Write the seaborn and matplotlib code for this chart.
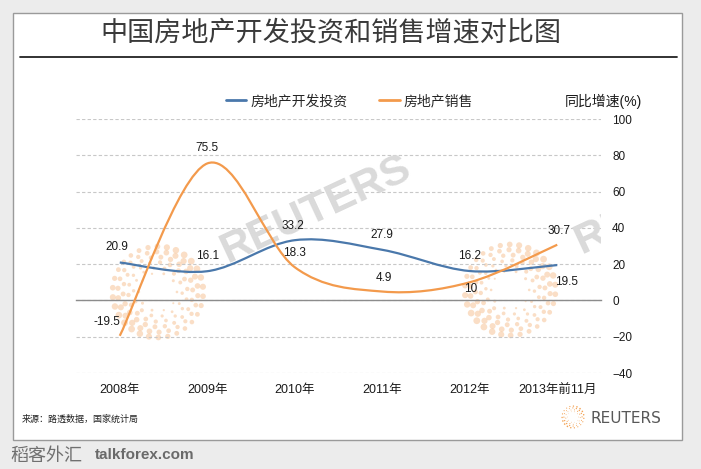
import numpy as np
import matplotlib
matplotlib.use("Agg")
import matplotlib.pyplot as plt
import seaborn as sns
from matplotlib.path import Path
from matplotlib.patches import PathPatch, Rectangle
from matplotlib.lines import Line2D

# data
years = ["2008年", "2009年", "2010年", "2011年", "2012年", "2013年前11月"]
invest = [20.9, 16.1, 33.2, 27.9, 16.2, 19.5]
sales = [-19.5, 75.5, 18.3, 4.9, 10, 30.7]
series_names = ["房地产开发投资", "房地产销售"]
title = "中国房地产开发投资和销售增速对比图"
source = "来源：路透数据，国家统计局"

# label offsets in points (layout only)
invest_off = [(-2, 11), (0, 11), (-1, 10), (0, 11), (0, 11), (7, -12)]
sales_off = [(-9, 10), (0, 11), (0, 10), (1, 10), (1, -5), (1, 10)]

BLUE = "#4a78ab"
ORANGE = "#f39a4c"

sns.set_style("white")
plt.rcParams['font.family'] = ['Liberation Sans', 'Noto Sans CJK SC', 'DejaVu Sans']

W, H = 701, 469
fig = plt.figure(figsize=(W / 100, H / 100), dpi=100, facecolor="#ececec")


def fx(px):
    return px / W


def fy(py):
    return 1 - py / H


def smooth_path(xs, ys):
    """Excel-like smoothed line: Catmull-Rom as cubic bezier segments"""
    pts = np.column_stack([xs, ys]).astype(float)
    n = len(pts)
    verts = [pts[0]]
    codes = [Path.MOVETO]
    for i in range(n - 1):
        p0 = pts[max(i - 1, 0)]
        p1 = pts[i]
        p2 = pts[i + 1]
        p3 = pts[min(i + 2, n - 1)]
        verts += [p1 + (p2 - p0) / 6, p2 - (p3 - p1) / 6, p2]
        codes += [Path.CURVE4] * 3
    return Path(verts, codes)


def draw_sphere(iax, color, smax, alpha, rings=6, r0=0.42, dn=4):
    iax.set_xlim(-1.1, 1.1)
    iax.set_ylim(-1.1, 1.1)
    iax.axis('off')
    for k in range(rings):
        r = r0 + (1.0 - r0) * k / (rings - 1)
        n = 10 + dn * k
        th = np.linspace(0, 2 * np.pi, n, endpoint=False) + k * 0.4
        size = smax * (0.2 + 0.8 * k / (rings - 1)) * (0.45 + 0.55 * np.cos(th - 3.9) ** 2)
        iax.scatter(r * np.cos(th), r * np.sin(th), s=size, color=color,
                    alpha=alpha, linewidths=0)


# white panel + title rule
fig.add_artist(Rectangle((fx(13), fy(440)), fx(682) - fx(13), fy(13) - fy(440),
                         transform=fig.transFigure, facecolor="white",
                         edgecolor="#9a9a9a", lw=1, zorder=-2))
fig.add_artist(Line2D([fx(20), fx(677)], [fy(57), fy(57)], transform=fig.transFigure,
                      color="#222222", lw=1.3))
fig.text(fx(331), fy(33), title, ha='center', va='center', fontsize=19.5,
         color="#3a3a3a", fontweight='light', family=['Noto Sans CJK SC'])

ax = fig.add_axes([fx(76), fy(373), fx(601) - fx(76), fy(119) - fy(373)])
ax.set_facecolor('none')
pos = np.arange(len(years))
ax.set_xlim(-0.5, len(years) - 0.5)
ax.set_ylim(-40, 100)

# background watermarks
for b in ([0.156 - 0.095, 0.319 - 0.197, 0.19, 0.394],
          [0.827 - 0.095, 0.327 - 0.197, 0.19, 0.394]):
    iax = ax.inset_axes(b)
    iax.set_zorder(0.3)
    draw_sphere(iax, "#f7c9a0", 24, 0.6)
for (x, y) in [(0.457, 0.642), (1.131, 0.677)]:
    ax.text(x, y, "REUTERS", transform=ax.transAxes, rotation=25, fontsize=31,
            fontweight='bold', color="#dadada", ha='center', va='center',
            rotation_mode='anchor', clip_on=True, zorder=1)

# lines
for vals, col in [(invest, BLUE), (sales, ORANGE)]:
    ax.add_patch(PathPatch(smooth_path(pos, vals), facecolor='none', edgecolor=col,
                           lw=1.6, zorder=3, capstyle='butt'))

# data labels
for vals, offs in [(invest, invest_off), (sales, sales_off)]:
    for x, v, o in zip(pos, vals, offs):
        ax.annotate(f"{v:g}", (x, v), xytext=o, textcoords='offset points',
                    ha='center', va='center', fontsize=8.5, color="#1a1a1a", zorder=4)

# axes styling
ax.yaxis.tick_right()
ax.set_yticks(range(-40, 101, 20))
ax.tick_params(axis='y', length=0, pad=8, labelsize=8.5, labelcolor="#1a1a1a")
ax.yaxis.grid(True, linestyle=(0, (3, 2)), color="#c8c8c8", lw=0.8)
ax.xaxis.grid(False)
ax.set_xticks(np.arange(-0.5, len(years), 1))
ax.set_xticklabels([])
ax.tick_params(axis='x', direction='in', length=4, color="#8c8c8c", width=1)
sns.despine(ax=ax, left=True, right=True, top=True)
ax.spines['bottom'].set_position(('data', 0))
ax.spines['bottom'].set_color("#8c8c8c")
ax.spines['bottom'].set_linewidth(1)

sec = ax.secondary_xaxis(0)
sec.set_xticks(pos, labels=years)
sec.tick_params(length=0, pad=8, labelsize=9, labelcolor="#1a1a1a")
sec.spines['bottom'].set_visible(False)

# legend + unit label
handles = [Line2D([], [], color=BLUE, lw=2), Line2D([], [], color=ORANGE, lw=2)]
fig.legend(handles, series_names, loc='center left', bbox_to_anchor=(fx(226), fy(101)),
           ncol=2, frameon=False, fontsize=10, handlelength=1.45, handletextpad=0.3,
           columnspacing=2.3, borderpad=0, borderaxespad=0)
fig.text(fx(565), fy(101), "同比增速(%)", ha='left', va='center', fontsize=10,
         color="#1a1a1a")

# footer
fig.text(fx(22), fy(419), source, ha='left', va='center', fontsize=6.5, color="#222222")
lax = fig.add_axes([fx(561), fy(429), fx(24), fy(405) - fy(429)])
draw_sphere(lax, "#f29a45", 1.4, 0.9, rings=4, r0=0.5, dn=3)
fig.text(fx(591), fy(418), "REUTERS", ha='left', va='center', fontsize=11,
         color="#585858", family=['DejaVu Sans'])
fig.text(fx(10), fy(456), "稻客外汇", ha='left', va='center', fontsize=13,
         color="#707070", family=['Noto Sans CJK SC'])
fig.text(fx(95), fy(455), "talkforex.com", ha='left', va='center', fontsize=11,
         fontweight='bold', color="#6a6a6a",
         family=['Liberation Sans Narrow', 'Liberation Sans'])

fig.savefig("out.png", dpi=100, facecolor=fig.get_facecolor())
